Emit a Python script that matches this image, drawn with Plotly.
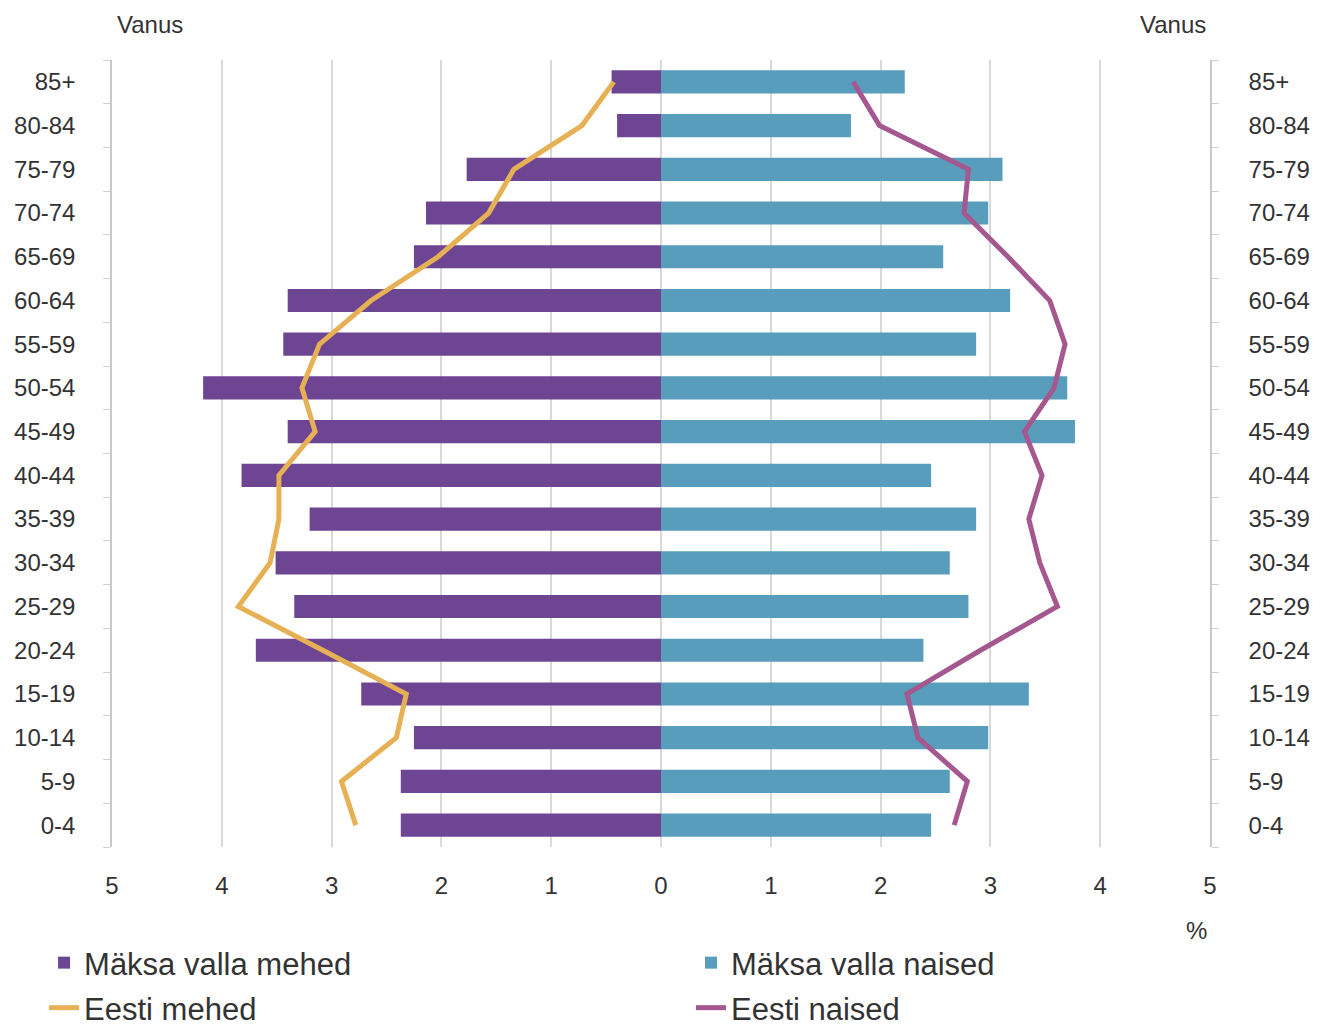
import plotly.graph_objects as go

ages = ["0-4", "5-9", "10-14", "15-19", "20-24", "25-29", "30-34", "35-39", "40-44",
        "45-49", "50-54", "55-59", "60-64", "65-69", "70-74", "75-79", "80-84", "85+"]

maksa_mehed = [2.37, 2.37, 2.25, 2.73, 3.69, 3.34, 3.51, 3.20, 3.82,
               3.40, 4.17, 3.44, 3.40, 2.25, 2.14, 1.77, 0.40, 0.45]
maksa_naised = [2.46, 2.63, 2.98, 3.35, 2.39, 2.80, 2.63, 2.87, 2.46,
                3.77, 3.70, 2.87, 3.18, 2.57, 2.98, 3.11, 1.73, 2.22]
eesti_mehed = [2.78, 2.91, 2.41, 2.32, 3.08, 3.85, 3.56, 3.48, 3.48,
               3.15, 3.27, 3.11, 2.64, 2.03, 1.57, 1.34, 0.72, 0.43]
eesti_naised = [2.67, 2.79, 2.34, 2.24, 2.91, 3.61, 3.45, 3.35, 3.47,
                3.31, 3.58, 3.68, 3.54, 3.16, 2.76, 2.80, 1.99, 1.75]

x_ticks = [-5, -4, -3, -2, -1, 0, 1, 2, 3, 4, 5]
x_tick_text = ["5", "4", "3", "2", "1", "0", "1", "2", "3", "4", "5"]

PURPLE = "#6E4593"
BLUE = "#589DBB"
ORANGE = "#E6B055"
PINK = "#A4588F"
FONT = "Liberation Sans, Arial, sans-serif"
TXT = "#333333"

fig = go.Figure()
fig.add_trace(go.Bar(
    y=ages, x=[-v for v in maksa_mehed], orientation="h", name="Mäksa valla mehed",
    marker=dict(color=PURPLE, line=dict(width=0)), customdata=maksa_mehed,
    hovertemplate="%{y}: %{customdata}%<extra>Mäksa valla mehed</extra>",
    yaxis="y", legend="legend", showlegend=True))
fig.add_trace(go.Bar(
    y=ages, x=maksa_naised, orientation="h", name="Mäksa valla naised",
    marker=dict(color=BLUE, line=dict(width=0)),
    hovertemplate="%{y}: %{x}%<extra>Mäksa valla naised</extra>",
    yaxis="y2", legend="legend2", showlegend=True))
fig.add_trace(go.Scatter(
    y=ages, x=[-v for v in eesti_mehed], mode="lines", name="Eesti mehed",
    line=dict(color=ORANGE, width=5), customdata=eesti_mehed,
    hovertemplate="%{y}: %{customdata}%<extra>Eesti mehed</extra>",
    yaxis="y2", legend="legend3", showlegend=True))
fig.add_trace(go.Scatter(
    y=ages, x=eesti_naised, mode="lines", name="Eesti naised",
    line=dict(color=PINK, width=5),
    hovertemplate="%{y}: %{x}%<extra>Eesti naised</extra>",
    yaxis="y2", legend="legend4", showlegend=True))

yaxis_common = dict(
    type="category", categoryorder="array", categoryarray=ages,
    range=[-0.5, len(ages) - 0.5], showgrid=False, zeroline=False,
    showline=True, linecolor="#C8C8C8", linewidth=1.5,
    ticks="outside", tickson="boundaries", ticklen=7, tickcolor="#D0D0D0",
    tickfont=dict(family=FONT, size=24, color=TXT), fixedrange=True,
)

legend_common = dict(
    orientation="h", xref="container", yref="container",
    xanchor="left", yanchor="top",
    font=dict(family=FONT, size=31, color=TXT),
    bgcolor="rgba(0,0,0,0)", itemclick=False, itemdoubleclick=False,
)
COL1, COL2 = 0.0332, 0.5207
ROW1, ROW2 = 0.0895, 0.0457

fig.update_layout(
    width=1327, height=1028,
    margin=dict(l=112, r=117, t=60, b=181),
    paper_bgcolor="white", plot_bgcolor="white",
    showlegend=True,
    barmode="overlay", bargap=0.47,
    font=dict(family=FONT, color=TXT),
    xaxis=dict(range=[-5, 5], tickvals=x_ticks, ticktext=x_tick_text,
               showgrid=True, gridcolor="#D9D9D9", gridwidth=1.5,
               zeroline=False, showline=False, ticks="",
               ticklabelstandoff=22,
               tickfont=dict(family=FONT, size=24, color=TXT), fixedrange=True),
    yaxis=dict(**yaxis_common, side="left", ticklabelstandoff=30),
    yaxis2=dict(**yaxis_common, side="right", overlaying="y", anchor="x",
                ticklabelstandoff=32),
    legend=dict(**legend_common, x=COL1, y=ROW1),
    legend2=dict(**legend_common, x=COL2, y=ROW1),
    legend3=dict(**legend_common, x=COL1, y=ROW2),
    legend4=dict(**legend_common, x=COL2, y=ROW2),
    annotations=[
        dict(text="Vanus", xref="paper", yref="paper", x=0.0346, y=1.0445,
             showarrow=False, font=dict(family=FONT, size=24, color=TXT),
             xanchor="center", yanchor="middle"),
        dict(text="Vanus", xref="paper", yref="paper", x=0.966, y=1.0445,
             showarrow=False, font=dict(family=FONT, size=24, color=TXT),
             xanchor="center", yanchor="middle"),
        dict(text="%", xref="paper", yref="paper", x=0.988, y=-0.1055,
             showarrow=False, font=dict(family=FONT, size=24, color=TXT),
             xanchor="center", yanchor="middle"),
    ],
)

fig.write_html(
    "out.html",
    config={"displayModeBar": False},
    post_script="document.body.style.margin='0px';document.body.style.overflow='hidden';",
)
